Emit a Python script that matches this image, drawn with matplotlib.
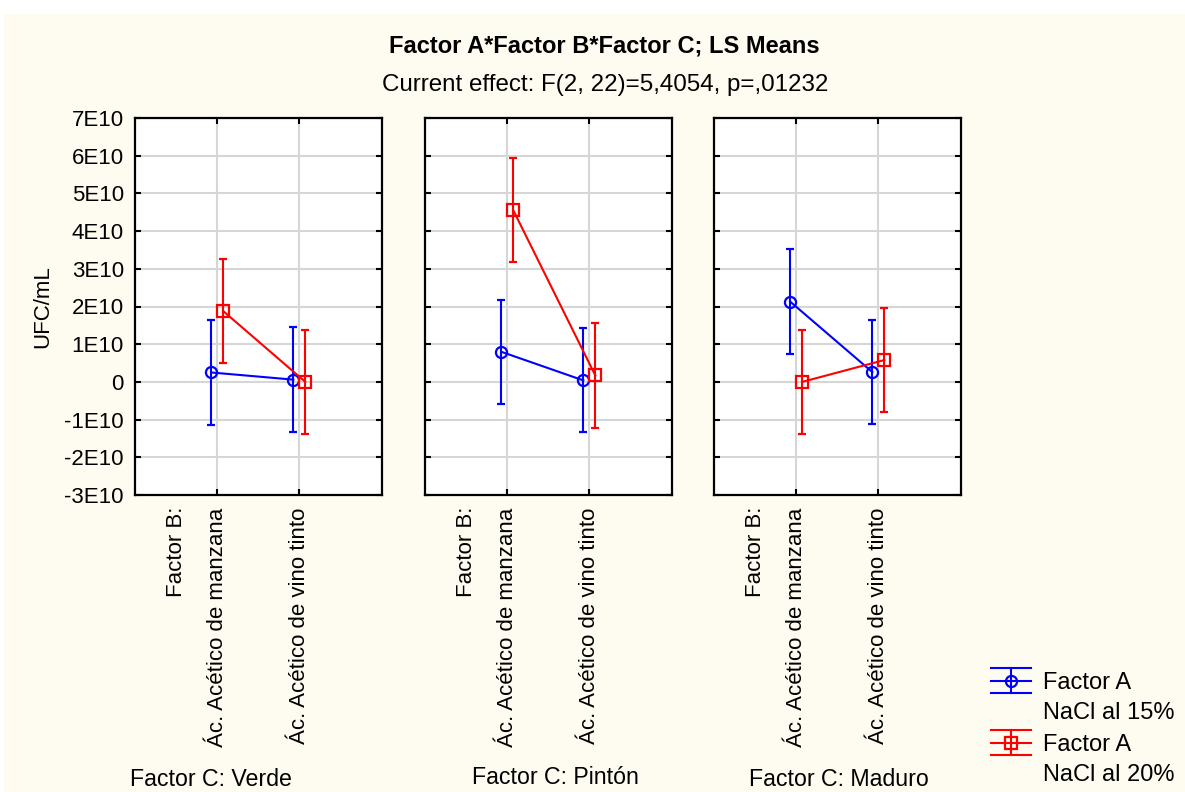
import matplotlib
matplotlib.use('Agg')
import matplotlib.pyplot as plt
from matplotlib.patches import Rectangle
from matplotlib.lines import Line2D
import matplotlib.transforms as mtransforms

plt.rcParams['font.family'] = ['Liberation Sans', 'DejaVu Sans']

# ---------------- data ----------------
factor_c = ['Verde', 'Pintón', 'Maduro']
factor_b = ['Ác. Acético de manzana', 'Ác. Acético de vino tinto']
factor_a = ['NaCl al 15%', 'NaCl al 20%']
# LS means (UFC/mL), one row per Factor C level, columns = Factor B levels
mean_15 = [[0.25e10, 0.06e10], [0.80e10, 0.04e10], [2.13e10, 0.26e10]]
mean_20 = [[1.88e10, 0.00e10], [4.56e10, 0.17e10], [0.00e10, 0.58e10]]
# half-width of confidence intervals
err_15 = [[1.385e10, 1.385e10], [1.38e10, 1.38e10], [1.385e10, 1.385e10]]
err_20 = [[1.38e10, 1.38e10], [1.385e10, 1.385e10], [1.375e10, 1.385e10]]
yticks = [-3e10, -2e10, -1e10, 0, 1e10, 2e10, 3e10, 4e10, 5e10, 6e10, 7e10]
ytick_labels = ['-3E10', '-2E10', '-1E10', '0', '1E10', '2E10', '3E10',
                '4E10', '5E10', '6E10', '7E10']

# ---------------- figure ----------------
W, H = 1185, 792
fig = plt.figure(figsize=(W / 100, H / 100), dpi=100, facecolor='white')
fig.patches.append(Rectangle((4 / W, 0), 1 - 4 / W, 1 - 14 / H,
                             transform=fig.transFigure, facecolor='#fefbf0',
                             edgecolor='none', zorder=-10))

FS = 16
panel_left = [135, 425, 714]
panel_w = 246.5
top_px, bot_px = 118, 495
colors = ['#0000ff', '#ff0000']
markers = ['o', 's']
offset = 0.073
series_means = [mean_15, mean_20]
series_errs = [err_15, err_20]

for p in range(3):
    ax = fig.add_axes([panel_left[p] / W, 1 - bot_px / H,
                       panel_w / W, (bot_px - top_px) / H])
    ax.set_facecolor('white')
    xs = [1, 2]
    for s in range(2):
        dx = -offset if s == 0 else offset
        xx = [x + dx for x in xs]
        ax.errorbar(xx, series_means[s][p], yerr=series_errs[s][p],
                    color=colors[s], marker=markers[s], markersize=8,
                    markerfacecolor='none', markeredgewidth=1.6,
                    linewidth=1.5, elinewidth=1.5, capsize=3, capthick=1.5,
                    zorder=3)
    ax.set_xlim(0, 3)
    ax.set_ylim(-3e10, 7e10)
    ax.set_yticks(yticks)
    ax.set_xticks(xs)
    ax.grid(True, color='#d6d6d6', linewidth=1.5, zorder=0)
    ax.set_axisbelow(True)
    for sp in ax.spines.values():
        sp.set_linewidth(1.6)
        sp.set_color('black')
    ax.tick_params(direction='in', length=4, width=1.5, left=True, right=True,
                   top=True, bottom=True, labelsize=FS, colors='black')
    ax.tick_params(axis='x', pad=9)
    ax.tick_params(axis='y', pad=8)
    ax.set_xticklabels(factor_b, rotation=90, fontsize=FS)
    if p == 0:
        ax.set_yticklabels(ytick_labels, fontsize=FS)
        ax.set_ylabel('UFC/mL', fontsize=FS, labelpad=8)
    else:
        ax.tick_params(axis='y', labelleft=False)
    trans = mtransforms.blended_transform_factory(ax.transData, ax.transAxes)
    ax.text(0.5, -12 / (bot_px - top_px), 'Factor B:', transform=trans,
            rotation=90, ha='center', va='top', fontsize=FS)

# Factor C labels
fc_pos = [(211, 779), (555, 777), (839, 779)]
for (x, y), lab in zip(fc_pos, factor_c):
    fig.text(x / W, 1 - y / H, 'Factor C: ' + lab, ha='center', va='center',
             fontsize=16.7)

# titles
fig.text(604 / W, 1 - 46 / H, 'Factor A*Factor B*Factor C; LS Means',
         ha='center', va='center', fontsize=17, fontweight='bold')
fig.text(605 / W, 1 - 85 / H, 'Current effect: F(2, 22)=5,4054, p=,01232',
         ha='center', va='center', fontsize=17.4)

# legend (overlay axes in pixel coordinates)
lax = fig.add_axes([0, 0, 1, 1])
lax.set_xlim(0, W)
lax.set_ylim(H, 0)
lax.axis('off')
leg_rows = [(681, 668, 693, 683, 713), (743, 730, 755, 745, 775)]
for s, (ym, yt, yb, yt1, yt2) in enumerate(leg_rows):
    c = colors[s]
    for yy in (yt, ym, yb):
        lax.add_line(Line2D([991, 1031], [yy, yy], color=c, linewidth=1.5))
    lax.add_line(Line2D([1011, 1011], [yt, yb], color=c, linewidth=1.5))
    lax.plot([1011], [ym], marker=markers[s], color=c, markersize=8,
             markerfacecolor='none', markeredgewidth=1.6)
    lax.text(1043, yt1, 'Factor A', ha='left', va='center', fontsize=17)
    lax.text(1043, yt2, factor_a[s], ha='left', va='center', fontsize=17)

fig.savefig('out.png', dpi=100, facecolor=fig.get_facecolor())
